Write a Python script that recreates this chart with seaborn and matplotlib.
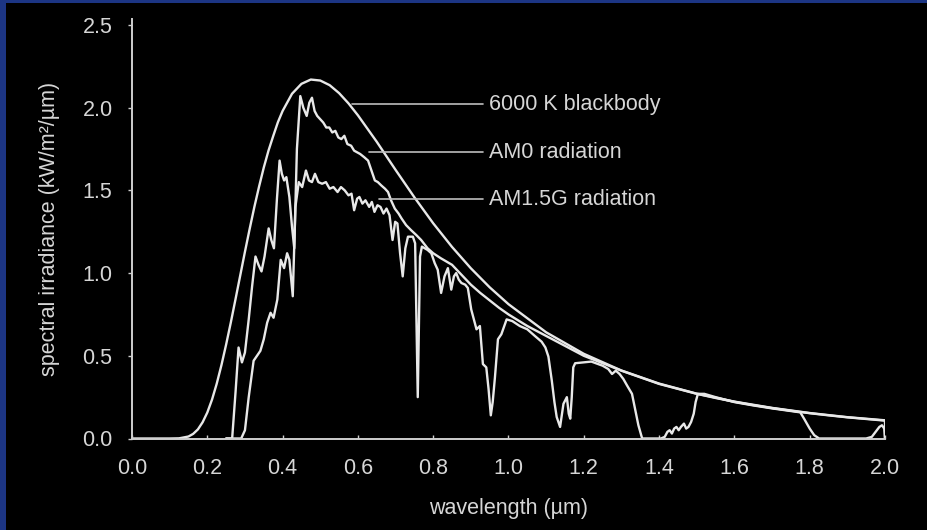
import matplotlib
matplotlib.use("Agg")
import matplotlib.pyplot as plt
import seaborn as sns
from matplotlib.patches import Rectangle

# ---------------- data ----------------
bb_wl = [0.0, 0.10, 0.125, 0.15, 0.1625, 0.175, 0.1875, 0.20, 0.2125, 0.225, 0.2375,
         0.25, 0.2625, 0.275, 0.2875, 0.30, 0.3125, 0.325, 0.3375, 0.35, 0.3625,
         0.375, 0.3875, 0.40, 0.425, 0.45, 0.475, 0.50, 0.525, 0.55, 0.575, 0.60,
         0.65, 0.70, 0.75, 0.80, 0.85, 0.90, 0.95, 1.0, 1.1, 1.2, 1.3, 1.4, 1.5,
         1.6, 1.7, 1.8, 1.9, 2.0]
bb_val = [0.0, 0.0, 0.001, 0.012, 0.028, 0.055, 0.098, 0.157, 0.235, 0.331, 0.443,
          0.568, 0.702, 0.843, 0.986, 1.129, 1.267, 1.400, 1.523, 1.638, 1.740,
          1.828, 1.912, 1.980, 2.084, 2.144, 2.170, 2.164, 2.136, 2.088, 2.026,
          1.954, 1.794, 1.624, 1.458, 1.301, 1.158, 1.029, 0.914, 0.812, 0.642,
          0.512, 0.411, 0.332, 0.271, 0.223, 0.185, 0.154, 0.129, 0.110]

am0_wl = [0.25, 0.266, 0.275, 0.283, 0.292, 0.300, 0.310, 0.319, 0.328, 0.336,
          0.344, 0.352, 0.363, 0.370, 0.377, 0.385, 0.392, 0.398, 0.404, 0.410,
          0.418, 0.425, 0.431, 0.438, 0.447, 0.455, 0.464, 0.471, 0.478, 0.485,
          0.492, 0.500, 0.508, 0.516, 0.524, 0.532, 0.540, 0.548, 0.556, 0.564,
          0.572, 0.582, 0.590, 0.598, 0.606, 0.617, 0.627, 0.636, 0.645, 0.653,
          0.662, 0.672, 0.680, 0.688, 0.698, 0.708, 0.716, 0.728, 0.741, 0.755,
          0.768, 0.785, 0.800, 0.820, 0.850, 0.875, 0.900, 0.925, 0.950, 0.975,
          1.000, 1.050, 1.100, 1.150, 1.200, 1.250, 1.300, 1.350, 1.400, 1.450,
          1.500, 1.550, 1.600, 1.650, 1.700, 1.750, 1.800, 1.850, 1.900, 1.950,
          2.000, 2.000]
am0_val = [0.0, 0.0, 0.28, 0.55, 0.46, 0.52, 0.72, 0.92, 1.10, 1.05,
           1.01, 1.10, 1.27, 1.20, 1.15, 1.45, 1.68, 1.60, 1.56, 1.58,
           1.46, 1.28, 1.15, 1.75, 2.07, 2.00, 1.95, 2.03, 2.06, 1.98,
           1.95, 1.93, 1.91, 1.88, 1.88, 1.85, 1.86, 1.82, 1.81, 1.83,
           1.78, 1.77, 1.74, 1.73, 1.72, 1.70, 1.68, 1.62, 1.56, 1.55,
           1.53, 1.51, 1.49, 1.44, 1.39, 1.36, 1.33, 1.29, 1.26, 1.23,
           1.20, 1.15, 1.12, 1.09, 1.05, 0.99, 0.93, 0.88, 0.835, 0.79,
           0.75, 0.68, 0.62, 0.56, 0.50, 0.455, 0.41, 0.37, 0.33, 0.30,
           0.27, 0.245, 0.222, 0.202, 0.184, 0.168, 0.153, 0.140, 0.128, 0.118,
           0.108, 0.0]

am15_wl = [0.25, 0.29, 0.300, 0.310, 0.323, 0.332, 0.341, 0.350, 0.359, 0.368,
           0.376, 0.386, 0.395, 0.404, 0.412, 0.418, 0.427, 0.434, 0.443, 0.452,
           0.462, 0.470, 0.478, 0.486, 0.495, 0.505, 0.515, 0.525, 0.535, 0.546,
           0.555, 0.565, 0.575, 0.583, 0.590, 0.598, 0.604, 0.612, 0.620, 0.630,
           0.637, 0.644, 0.652, 0.660, 0.668, 0.676, 0.684, 0.692, 0.699, 0.705,
           0.712, 0.719, 0.726, 0.733, 0.746, 0.752, 0.759, 0.765, 0.770, 0.785,
           0.795, 0.804, 0.812, 0.821, 0.830, 0.839, 0.848, 0.855, 0.861, 0.868,
           0.875, 0.885, 0.892, 0.901, 0.908, 0.915, 0.924, 0.932, 0.941, 0.947,
           0.953, 0.958, 0.964, 0.972, 0.981, 0.995, 1.010, 1.030, 1.050, 1.070,
           1.088, 1.098, 1.106, 1.115, 1.122, 1.128, 1.137, 1.146, 1.155, 1.160,
           1.164, 1.168, 1.172, 1.177, 1.200, 1.220, 1.250, 1.265, 1.275, 1.285,
           1.295, 1.305, 1.315, 1.328, 1.337, 1.345, 1.355, 1.405, 1.415, 1.422,
           1.428, 1.434, 1.440, 1.446, 1.452, 1.458, 1.466, 1.472, 1.478, 1.485,
           1.492, 1.497, 1.503, 1.520, 1.550, 1.600, 1.650, 1.700, 1.750, 1.775,
           1.785, 1.800, 1.812, 1.825, 1.950, 1.965, 1.975, 1.985, 1.992, 1.998,
           2.000]
am15_val = [0.0, 0.0, 0.05, 0.25, 0.47, 0.50, 0.53, 0.60, 0.70, 0.76,
            0.73, 0.84, 1.08, 1.03, 1.12, 1.08, 0.86, 1.40, 1.55, 1.52,
            1.62, 1.56, 1.55, 1.60, 1.55, 1.54, 1.55, 1.51, 1.52, 1.49,
            1.52, 1.50, 1.47, 1.48, 1.38, 1.45, 1.46, 1.42, 1.44, 1.40,
            1.43, 1.37, 1.41, 1.40, 1.36, 1.39, 1.35, 1.20, 1.31, 1.30,
            1.12, 0.98, 1.15, 1.22, 1.22, 1.18, 0.25, 1.10, 1.16, 1.14,
            1.12, 1.06, 1.02, 0.88, 0.98, 1.03, 0.90, 0.98, 1.00, 0.96,
            0.94, 0.93, 0.91, 0.78, 0.72, 0.66, 0.68, 0.45, 0.43, 0.30,
            0.14, 0.22, 0.37, 0.60, 0.63, 0.72, 0.71, 0.68, 0.66, 0.62,
            0.585, 0.55, 0.495, 0.35, 0.22, 0.13, 0.07, 0.21, 0.25, 0.15,
            0.12, 0.25, 0.43, 0.455, 0.46, 0.465, 0.44, 0.42, 0.39, 0.41,
            0.39, 0.36, 0.32, 0.27, 0.17, 0.08, 0.0, 0.0, 0.01, 0.04,
            0.05, 0.03, 0.06, 0.07, 0.05, 0.07, 0.09, 0.06, 0.07, 0.10,
            0.15, 0.22, 0.27, 0.27, 0.25, 0.22, 0.20, 0.182, 0.166, 0.158,
            0.12, 0.06, 0.02, 0.0, 0.0, 0.01, 0.04, 0.07, 0.08, 0.06,
            0.0]

series_labels = ["6000 K blackbody", "AM0 radiation", "AM1.5G radiation"]
label_levels = [2.022, 1.73, 1.445]
leader_starts = [0.585, 0.630, 0.655]

x_ticks = [0.0, 0.2, 0.4, 0.6, 0.8, 1.0, 1.2, 1.4, 1.6, 1.8, 2.0]
y_ticks = [0.0, 0.5, 1.0, 1.5, 2.0, 2.5]

# ---------------- styling ----------------
sns.set_theme(style="ticks")
plt.rcParams["font.family"] = ["Liberation Sans", "DejaVu Sans"]

W, H = 928, 530
LINE = "#e8e8e8"
TXT = "#d6d6d6"
FS = 15.5

fig = plt.figure(figsize=(W / 100, H / 100), dpi=100)
fig.patch.set_facecolor("#1c3584")
fig.patches.append(Rectangle((6 / W, 0), 1, 1 - 3 / H, transform=fig.transFigure,
                             facecolor="black", edgecolor="none", zorder=-10))

ax = fig.add_axes([132 / W, 91.5 / H, (885 - 132) / W, (511 - 91.5) / H])
ax.set_facecolor("black")
ax.set_zorder(1)

for xs, ys in [(bb_wl, bb_val), (am0_wl, am0_val), (am15_wl, am15_val)]:
    sns.lineplot(x=xs, y=ys, ax=ax, color=LINE, linewidth=1.7,
                 estimator=None, sort=False)

# leader lines + labels
for lab, yv, x0 in zip(series_labels, label_levels, leader_starts):
    ax.plot([x0, 0.933], [yv, yv], color="#bdbdbd", linewidth=1.2)
    ax.text(0.949, yv, lab, color=TXT, fontsize=FS, va="center", ha="left")

ax.set_xlim(0, 2.0)
ax.set_ylim(0, 2.536)
ax.set_xticks(x_ticks)
ax.set_xticklabels([f"{v:.1f}" for v in x_ticks])
ax.set_yticks(y_ticks)
ax.set_yticklabels([f"{v:.1f}" for v in y_ticks])

for side in ["top", "right"]:
    ax.spines[side].set_visible(False)
for side in ["left", "bottom"]:
    ax.spines[side].set_color("#cfcfcf")
    ax.spines[side].set_linewidth(1.4)

ax.tick_params(axis="x", direction="in", length=3, width=1.0, color="#cfcfcf",
               labelcolor=TXT, labelsize=FS, pad=14)
ax.tick_params(axis="y", direction="out", length=3, width=1.0, color="#cfcfcf",
               labelcolor=TXT, labelsize=FS, pad=11)
ax.grid(False)

ax.set_xlabel("wavelength (µm)", color=TXT, fontsize=FS, labelpad=14)
ax.set_ylabel("spectral irradiance (kW/m²/µm)", color=TXT, fontsize=FS, labelpad=16)

fig.savefig("out.png", dpi=100, facecolor=fig.get_facecolor())
